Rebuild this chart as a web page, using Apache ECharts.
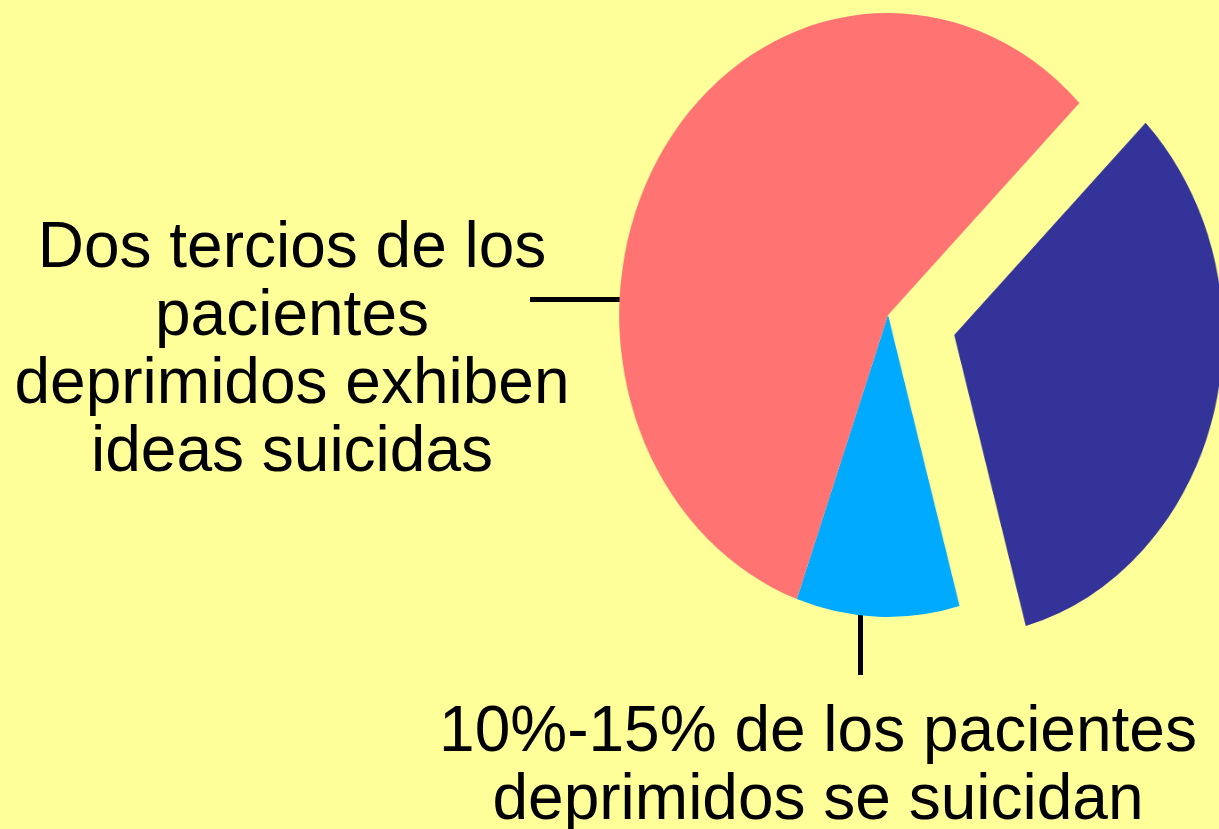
<!DOCTYPE html>
<html>
<head>
<meta charset="utf-8">
<script src="https://cdn.jsdelivr.net/npm/echarts@6/dist/echarts.min.js"></script>
<style>
  html, body { margin: 0; padding: 0; width: 1219px; height: 829px; overflow: hidden; background: #FFFF99; }
  #bg { position: absolute; left: 0; top: 0; width: 1219px; height: 829px; }
  #pie { position: absolute; left: 0; top: 0; width: 1400px; height: 829px;
         transform: scaleX(0.89); transform-origin: 888px 315px; }
</style>
</head>
<body>
<div id="bg"></div>
<div id="pie"></div>
<script>
// ---- data ----
const sliceNames = ['Resto de los pacientes', 'Se suicidan', 'Exhiben ideas suicidas'];
const sliceValues = [33.1, 9.8, 57.1];
const explodedSlice = 'Resto de los pacientes';
const labelTexts = [
  'Dos tercios de los\npacientes\ndeprimidos exhiben\nideas suicidas',
  '10%-15% de los pacientes\ndeprimidos se suicidan'
];

// ---- styles ----
const palette = ['#333399', '#00AAFF', '#FF7373'];
const FONT = '"Liberation Sans", Arial, Helvetica, sans-serif';

const bgChart = echarts.init(document.getElementById('bg'), null, { renderer: 'canvas' });
const textStyle = {
  fontFamily: FONT, fontSize: 64, fill: '#000', lineHeight: 68,
  align: 'center', verticalAlign: 'middle',
  textShadowColor: '#ffffff', textShadowOffsetX: 3, textShadowOffsetY: 3, textShadowBlur: 0,
  shadowColor: '#ffffff', shadowOffsetX: 3, shadowOffsetY: 3, shadowBlur: 0
};
bgChart.setOption({
  backgroundColor: '#FFFF99',
  animation: false,
  graphic: [
    { type: 'text', style: Object.assign({}, textStyle, { text: labelTexts[0], x: 292, y: 351 }) },
    { type: 'text', style: Object.assign({}, textStyle, { text: labelTexts[1], x: 818, y: 767 }) },
    { type: 'line', shape: { x1: 530, y1: 299.5, x2: 620, y2: 299.5 }, style: { stroke: '#000', lineWidth: 5 } },
    { type: 'line', shape: { x1: 860.5, y1: 615, x2: 860.5, y2: 675 }, style: { stroke: '#000', lineWidth: 5 } }
  ]
});

const pieChart = echarts.init(document.getElementById('pie'), null, { renderer: 'canvas' });
pieChart.setOption({
  backgroundColor: 'transparent',
  animation: false,
  color: palette,
  series: [{
    type: 'pie',
    center: [888, 315],
    radius: [0, 302],
    startAngle: 44.6,
    clockwise: true,
    selectedMode: 'single',
    selectedOffset: 77,
    label: { show: false },
    labelLine: { show: false },
    emphasis: { disabled: true, scale: false },
    itemStyle: { borderWidth: 0 },
    data: sliceNames.map((n, i) => ({ name: n, value: sliceValues[i], selected: n === explodedSlice }))
  }]
});
</script>
</body>
</html>
